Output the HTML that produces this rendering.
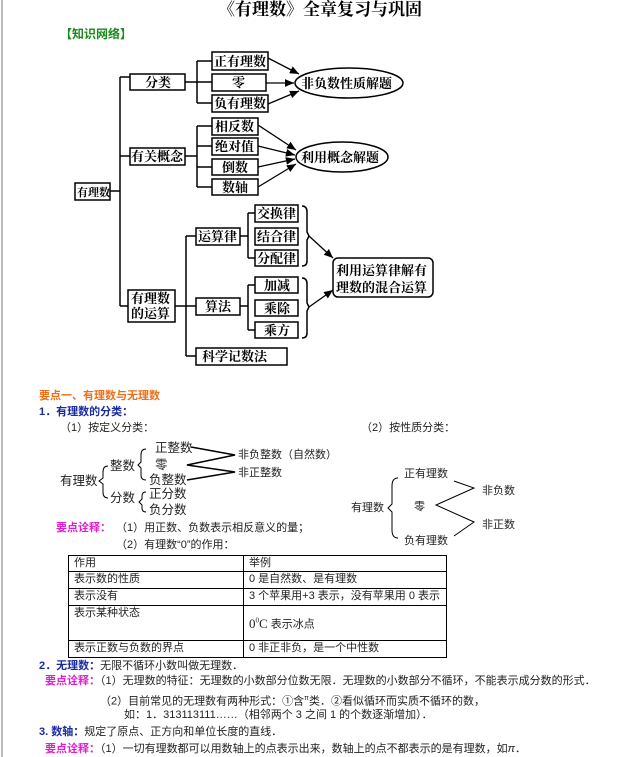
<!DOCTYPE html>
<html><head><meta charset="utf-8"><style>
body{margin:0;width:623px;height:757px;background:#fff;position:relative;overflow:hidden;font-family:"Liberation Serif","Noto Serif CJK SC",serif;}
.t{position:absolute;white-space:nowrap;font-size:11px;line-height:14px;color:#222;font-family:"Liberation Sans","Noto Sans CJK SC",sans-serif;}
.b{font-weight:bold;}
.o{color:#e8701a;font-weight:bold;}
.bl{color:#1a2aa0;font-weight:bold;}
.m{color:#e020d0;font-weight:bold;}
.s{font-size:12.5px;line-height:16px;}
table{position:absolute;left:68px;top:555px;width:379px;border-collapse:collapse;font-family:"Liberation Sans","Noto Sans CJK SC",sans-serif;font-size:11px;color:#222;}
td{border:1.5px solid #000;padding:0 5px;vertical-align:top;line-height:15px;}
</style></head><body>
<div style="position:absolute;left:1px;top:0;width:2px;height:757px;background:#bbb"></div>
<div class="t b" style="left:218px;top:0;font-size:17px;line-height:20px;font-family:'Liberation Serif','Noto Serif CJK SC',serif;color:#000">《有理数》全章复习与巩固</div>
<div class="t b" style="left:60px;top:27px;font-size:12px;color:#1a8a1a">【知识网络】</div>
<svg width="623" height="380" style="position:absolute;left:0;top:0" font-family="Liberation Serif,Noto Serif CJK SC,serif" font-size="13" font-weight="bold">
<defs><marker id="a" markerWidth="8" markerHeight="8" refX="7" refY="4" orient="auto"><path d="M0,1 L7,4 L0,7z" fill="#000"/></marker></defs>
<g fill="none" stroke="#000" stroke-width="1.5">
<rect x="75" y="183" width="35" height="17"/>
<rect x="130" y="74" width="55" height="16"/>
<rect x="130" y="148" width="55" height="17"/>
<rect x="128" y="290" width="47" height="32"/>
<rect x="212" y="52" width="56" height="18"/><rect x="212" y="74" width="54" height="17"/><rect x="212" y="95" width="56" height="17"/>
<rect x="212" y="118" width="46" height="17"/><rect x="212" y="138" width="46" height="17"/><rect x="212" y="159" width="46" height="16"/><rect x="212" y="179" width="46" height="16"/>
<rect x="196" y="228" width="44" height="17"/><rect x="255" y="205" width="43" height="17"/><rect x="255" y="228" width="43" height="17"/><rect x="255" y="250" width="43" height="16"/>
<rect x="196" y="298" width="44" height="17"/><rect x="255" y="277" width="43" height="16"/><rect x="255" y="300" width="43" height="16"/><rect x="255" y="322" width="43" height="16"/>
<rect x="196" y="348" width="91" height="17"/>
<rect x="333" y="258" width="100" height="39" rx="5"/>
<ellipse cx="349" cy="83" rx="54" ry="15"/><ellipse cx="342" cy="157" rx="46" ry="15"/>
<path d="M110,191H120M120,77V306M120,77H130M120,156H130M120,306H128"/>
<path d="M185,82H212M197,61V103M197,61H212M197,103H212"/>
<path d="M185,156H197M197,126V187M197,126H212M197,146H212M197,167H212M197,187H212"/>
<path d="M175,306H186M186,236V356M186,236H196M186,306H196M186,356H196"/>
<path d="M240,236H248M248,213V258M248,213H255M248,258H255M240,306H248M248,285V330M248,285H255M248,330H255"/>
<path d="M302,206Q307,206 307,212V232L309,236L307,240V261Q307,266 302,266"/>
<path d="M302,278Q307,278 307,284V303L309,307L307,311V333Q307,338 302,338"/>
</g>
<g stroke="#000" stroke-width="1.3" marker-end="url(#a)">
<line x1="268" y1="58" x2="299" y2="74"/><line x1="266" y1="83" x2="294" y2="83"/><line x1="268" y1="104" x2="299" y2="91"/>
<line x1="258" y1="125" x2="296" y2="150"/><line x1="258" y1="146" x2="295" y2="155"/><line x1="258" y1="167" x2="295" y2="159"/><line x1="258" y1="187" x2="296" y2="164"/>
<line x1="309" y1="236" x2="333" y2="258"/><line x1="309" y1="307" x2="333" y2="290"/>
</g>
<g fill="#000">
<text x="77" y="196" font-size="11">有理数</text>
<text x="145" y="87">分类</text><text x="131" y="161">有关概念</text>
<text x="131" y="303">有理数</text><text x="131" y="318">的运算</text>
<text x="214" y="66">正有理数</text><text x="232" y="87">零</text><text x="214" y="108">负有理数</text>
<text x="215" y="131">相反数</text><text x="215" y="151">绝对值</text><text x="222" y="172">倒数</text><text x="222" y="192">数轴</text>
<text x="198" y="241">运算律</text><text x="257" y="218">交换律</text><text x="257" y="241">结合律</text><text x="257" y="263">分配律</text>
<text x="205" y="311">算法</text><text x="264" y="290">加减</text><text x="264" y="313">乘除</text><text x="264" y="335">乘方</text>
<text x="202" y="361">科学记数法</text>
<text x="336" y="275">利用运算律解有</text><text x="336" y="292">理数的混合运算</text>
<text x="301" y="88">非负数性质解题</text><text x="301" y="162">利用概念解题</text>
</g>
</svg>
<div class="t o" style="left:39px;top:389px">要点一、有理数与无理数</div>
<div class="t bl" style="left:39px;top:405px">1．有理数的分类：</div>
<div class="t" style="left:60px;top:421px">（1）按定义分类：</div>
<div class="t" style="left:361px;top:421px">（2）按性质分类：</div>
<div class="t s" style="left:155px;top:440px">正整数</div>
<div class="t s" style="left:155px;top:457px">零</div>
<div class="t s" style="left:149px;top:472px">负整数</div>
<div class="t s" style="left:110px;top:458px">整数</div>
<div class="t s" style="left:60px;top:473px">有理数</div>
<div class="t s" style="left:110px;top:490px">分数</div>
<div class="t s" style="left:149px;top:486px">正分数</div>
<div class="t s" style="left:149px;top:502px">负分数</div>
<div class="t" style="left:238px;top:448px">非负整数（自然数）</div>
<div class="t" style="left:238px;top:466px">非正整数</div>
<div class="t" style="left:404px;top:467px">正有理数</div>
<div class="t" style="left:414px;top:500px">零</div>
<div class="t" style="left:404px;top:534px">负有理数</div>
<div class="t" style="left:351px;top:501px">有理数</div>
<div class="t" style="left:482px;top:484px">非负数</div>
<div class="t" style="left:482px;top:518px">非正数</div>
<svg width="623" height="757" style="position:absolute;left:0;top:0" fill="none" stroke="#000">
<path d="M191,447L235,455L187,465L235,472L187,480" stroke-width="1.6"/>
<path d="M454,481L474,488L436,505L474,522L454,536" stroke-width="1"/>
<path d="M398,478Q392,478 392,486V504L388,508L392,512V530Q392,538 398,538" stroke-width="1"/>
<path d="M108,466Q103,466 103,472V478L99,481L103,484V492Q103,498 108,498" stroke-width="1"/>
<path d="M146,449Q141,449 141,455V462L138,465L141,468V475Q141,480 146,480" stroke-width="1"/>
<path d="M146,492Q142,492 142,496V499L139,502L142,505V508Q142,512 146,512" stroke-width="1"/>
</svg>
<div class="t m" style="left:56px;top:521px">要点诠释：</div>
<div class="t" style="left:116px;top:521px">（1）用正数、负数表示相反意义的量；</div>
<div class="t" style="left:116px;top:538px">（2）有理数“0”的作用：</div>
<table>
<tr style="height:16px"><td style="width:164px">作用</td><td>举例</td></tr>
<tr style="height:17px"><td>表示数的性质</td><td>0 是自然数、是有理数</td></tr>
<tr style="height:17px"><td>表示没有</td><td>3 个苹果用+3 表示，没有苹果用 0 表示</td></tr>
<tr style="height:35px"><td>表示某种状态</td><td style="vertical-align:middle"><span style="font-family:'Liberation Serif',serif;font-size:13px">0<sup style="font-size:7px">0</sup>C</span> 表示冰点</td></tr>
<tr style="height:17px"><td>表示正数与负数的界点</td><td>0 非正非负，是一个中性数</td></tr>
</table>
<div class="t" style="left:39px;top:659px"><span class="bl">2．无理数：</span>无限不循环小数叫做无理数．</div>
<div class="t" style="left:45px;top:674px"><span class="m">要点诠释：</span>（1）无理数的特征：无理数的小数部分位数无限．无理数的小数部分不循环，不能表示成分数的形式．</div>
<div class="t" style="left:100px;top:692px">（2）目前常见的无理数有两种形式：①含<sup style="font-size:7px">π</sup>类．②看似循环而实质不循环的数，</div>
<div class="t" style="left:124px;top:708px">如：1．313113111……（相邻两个 3 之间 1 的个数逐渐增加）．</div>
<div class="t" style="left:39px;top:725px"><span class="bl">3. 数轴：</span>规定了原点、正方向和单位长度的直线．</div>
<div class="t" style="left:45px;top:742px"><span class="m">要点诠释：</span>（1）一切有理数都可以用数轴上的点表示出来，数轴上的点不都表示的是有理数，如<i>π</i>．</div>
</body></html>
